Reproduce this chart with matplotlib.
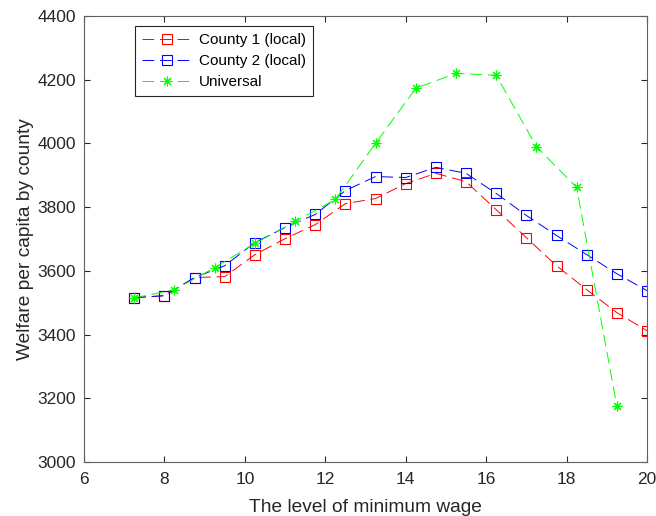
import matplotlib
matplotlib.use("Agg")
import matplotlib.pyplot as plt
import numpy as np

# minimum wage levels
wage_local = [7.25, 8.0, 8.75, 9.5, 10.25, 11.0, 11.75, 12.5, 13.25, 14.0,
              14.75, 15.5, 16.25, 17.0, 17.75, 18.5, 19.25, 20.0]
wage_univ = [7.25, 8.25, 9.25, 10.25, 11.25, 12.25, 13.25, 14.25, 15.25,
             16.25, 17.25, 18.25, 19.25]

county1 = [3516, 3522, 3579, 3582, 3651, 3701, 3745, 3811, 3827, 3874,
           3906, 3880, 3792, 3704, 3616, 3541, 3469, 3412]
county2 = [3516, 3522, 3579, 3616, 3689, 3736, 3777, 3852, 3896, 3893,
           3925, 3906, 3843, 3774, 3711, 3651, 3591, 3538]
universal = [3515, 3541, 3610, 3686, 3755, 3824, 4000, 4173, 4220, 4214,
             3990, 3862, 3176]

plt.rcParams['font.family'] = ['Liberation Sans', 'DejaVu Sans']

fig = plt.figure(figsize=(6.56, 5.16), dpi=100)
ax = fig.add_axes([84 / 656, 1 - 462 / 516, (647 - 84) / 656, (462 - 16) / 516])

dash = (0, (12, 6))
ax.plot(wage_local, county1, color='r', ls=dash, lw=0.7, marker='s',
        ms=6.5, mfc='none', mew=0.8, label='County 1 (local)')
ax.plot(wage_local, county2, color='b', ls=dash, lw=0.7, marker='s',
        ms=6.5, mfc='none', mew=0.8, label='County 2 (local)')
ax.plot(wage_univ, universal, color='#00ff00', ls=dash, lw=0.7, marker=(8, 2, 0),
        ms=7, mew=0.8, label='Universal')

ax.set_xlim(6, 20)
ax.set_ylim(3000, 4400)
ax.set_xticks(np.arange(6, 21, 2))
ax.set_yticks(np.arange(3000, 4401, 200))

for s in ax.spines.values():
    s.set_color('#606060')
    s.set_linewidth(0.8)
ax.tick_params(direction='in', top=True, right=True, length=4, width=0.8,
               color='#262626', labelsize=12.5, labelcolor='#262626')
ax.tick_params(axis='x', pad=7)
ax.tick_params(axis='y', pad=6)

ax.set_xlabel('The level of minimum wage', fontsize=13.8, color='#262626',
              labelpad=8.5)
ax.set_ylabel('Welfare per capita by county', fontsize=13.8, color='#262626',
              labelpad=2)

leg = ax.legend(loc='upper left', bbox_to_anchor=(0.091, 0.977), fontsize=11,
                fancybox=False, framealpha=1, edgecolor='#262626',
                borderpad=0.45, labelspacing=0.45, handlelength=3.2,
                handletextpad=0.5, borderaxespad=0)
leg.get_frame().set_linewidth(0.8)

fig.savefig('out.png', dpi=100)
